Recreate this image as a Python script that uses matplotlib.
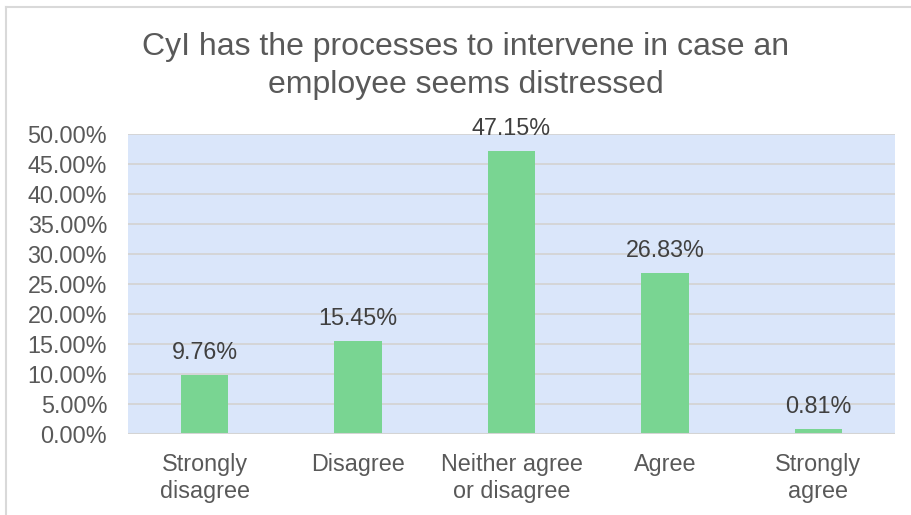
import matplotlib
matplotlib.use("Agg")
import matplotlib.pyplot as plt
from matplotlib.lines import Line2D
from matplotlib.ticker import FuncFormatter, MultipleLocator

categories = ["Strongly\ndisagree", "Disagree", "Neither agree\nor disagree", "Agree", "Strongly\nagree"]
values = [9.76, 15.45, 47.15, 26.83, 0.81]
title = "CyI has the processes to intervene in case an\nemployee seems distressed"

W, H = 912, 515
fig = plt.figure(figsize=(W / 100, H / 100), dpi=100)
plt.rcParams["font.family"] = ["Liberation Sans", "DejaVu Sans"]
text_color = "#595959"
fs = 16.8

# plot area in pixel coordinates
left, right, top, bottom = 128, 895, 134, 434
ax = fig.add_axes([left / W, 1 - bottom / H, (right - left) / W, (bottom - top) / H])
ax.set_facecolor("#DAE6FA")

x = list(range(len(categories)))
ax.bar(x, values, width=0.31, color="#79D592", zorder=3)
ax.set_xlim(-0.5, len(categories) - 0.5)
ax.set_ylim(0, 50)
ax.yaxis.set_major_locator(MultipleLocator(5))
ax.yaxis.set_major_formatter(FuncFormatter(lambda v, p: f"{v:.2f}%"))
ax.grid(axis="y", color="#D4D4D4", linewidth=1.3, zorder=1)
ax.set_xticks(x)
ax.set_xticklabels(categories, fontsize=fs, color=text_color, linespacing=1.25)
ax.tick_params(axis="y", labelsize=fs, labelcolor=text_color, length=0, pad=15)
ax.tick_params(axis="x", length=0, pad=13.5)
for s in ax.spines.values():
    s.set_visible(False)
ax.axhline(0, color="#D4D4D4", linewidth=1.5, zorder=4)

for xi, v in zip(x, values):
    ax.annotate(f"{v:.2f}%", (xi, v), xytext=(0, 8), textcoords="offset points",
                ha="center", va="bottom", fontsize=fs, color="#404040", zorder=5)

fig.text(466 / W, 1 - 66 / H, title, ha="center", va="center", fontsize=23,
         color=text_color, linespacing=1.32)

# chart frame
fig.add_artist(Line2D([6 / W, 6 / W], [0, 1 - 7 / H], transform=fig.transFigure,
                      color="#D9D9D9", linewidth=1.5))
fig.add_artist(Line2D([6 / W, 1], [1 - 7 / H, 1 - 7 / H], transform=fig.transFigure,
                      color="#D9D9D9", linewidth=1.5))

fig.savefig("out.png", dpi=100, facecolor="white")
